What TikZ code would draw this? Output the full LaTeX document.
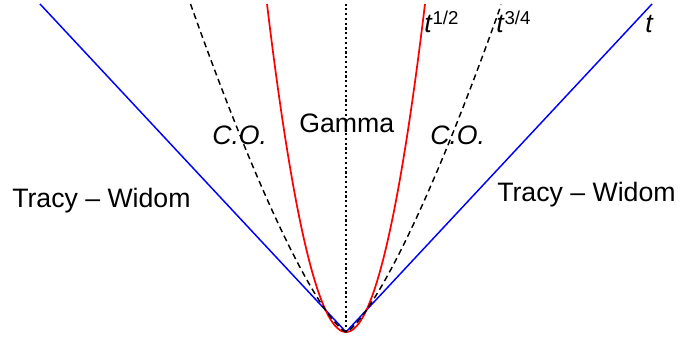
\documentclass[tikz,border=0pt]{standalone}
\usepackage{fontspec}
\setmainfont{Liberation Sans}
\newcommand{\supnum}[1]{\raisebox{6pt}{\fontsize{14}{14}\selectfont #1}}
\begin{document}
\begin{tikzpicture}[x=0.75pt,y=-0.75pt,
  lbl/.style={inner sep=0pt,font=\fontsize{20}{24}\selectfont},
  bluecurve/.style={blue,line width=1.1pt},
  redcurve/.style={red,line width=1.3pt},
  dashcurve/.style={black,line width=1.1pt,dash pattern=on 4.5pt off 3pt},
  dotcurve/.style={black,line width=1.1pt,dash pattern=on 1.6pt off 2pt}]
\useasboundingbox (0,0) rectangle (681,338);
\coordinate (apex) at (346,332);
\coordinate (bl) at (40,4);
\coordinate (br) at (652,4);
\coordinate (top) at (346,4);
% blue lines x = +-t
\draw[bluecurve] (bl) -- (apex) -- (br);
% red x = +-t^{1/2}
\draw[redcurve] plot[domain=-3.873:3.873,samples=121,smooth] ({346+20.4*\x},{332-21.87*\x*\x});
% dashed x = +-t^{3/4}, param u: x=u^3, t=u^4
\draw[dashcurve] plot[domain=-1.968:1.968,samples=121,smooth] ({346+20.4*\x*\x*\x},{332-21.87*\x*\x*\x*\x});
% dotted centre
\draw[dotcurve] (apex) -- (top);
% labels
\node[lbl,anchor=base west] (twl) at (12,208) {Tracy – Widom};
\node[lbl,anchor=base west] (twr) at (497,202) {Tracy – Widom};
\node[lbl,anchor=base west] (gam) at (299,133) {Gamma};
\node[lbl,anchor=base west] (col) at (212,145) {\textit{C.O.}};
\node[lbl,anchor=base west] (cor) at (430,145) {\textit{C.O.}};
\node[lbl,anchor=base west] (th) at (424,33) {\textit{t}\supnum{1/2}};
\node[lbl,anchor=base west] (ttq) at (496,33) {\textit{t}\supnum{3/4}};
\node[lbl,anchor=base west] (tt) at (645,33) {\textit{t}};
\end{tikzpicture}
\end{document}
